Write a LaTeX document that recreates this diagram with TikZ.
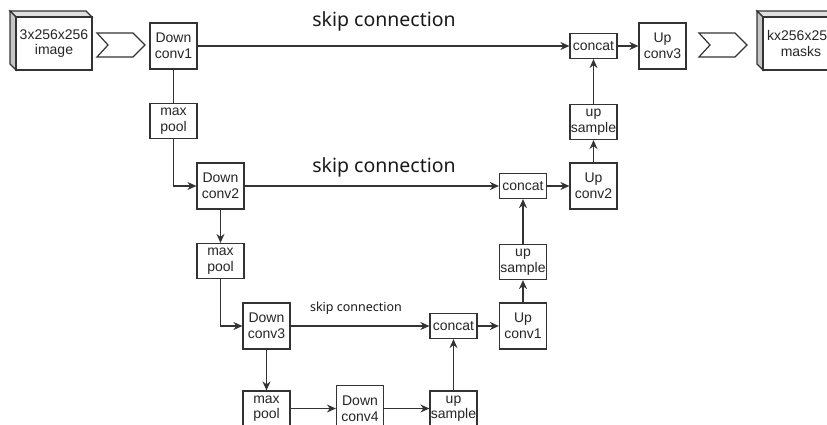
\documentclass[tikz,border=0pt]{standalone}
\usepackage{fontspec}
\setmainfont{Liberation Sans}
\newfontfamily\labelfont{Noto Sans}
\usetikzlibrary{arrows.meta}
\begin{document}
\begin{tikzpicture}[x=1pt,y=-1pt,
  blk/.style={draw=black!80, line width=1.2pt, fill=white, align=center,
    inner sep=0pt, text=black!85, font=\fontsize{14}{15.5}\selectfont,
    minimum width=47pt},
  conv/.style={blk, minimum height=46pt},
  smallbox/.style={blk, minimum height=35pt},
  catbox/.style={blk, minimum height=25pt},
  wire/.style={draw=black!80, line width=1.2pt},
  arr/.style={wire, -{Stealth[length=9pt,width=8pt]}},
  chev/.style={draw=black!80, line width=1.2pt, fill=white},
  voltext/.style={align=center, inner sep=0pt, text=black!85,
    font=\fontsize{14}{15.5}\selectfont},
  skiplabel/.style={text=black!90, inner sep=0pt}]
\useasboundingbox (0,0) rectangle (827,425);
\clip (0,0) rectangle (827,425);

% input and output volumes (cube outlines)
\newcommand{\volume}[2]{%
  \filldraw[fill=gray!25, draw=black!80, line width=1.2pt]
    (#1-6,#2-6) -- (#1+70,#2-6) -- (#1+76,#2) -- (#1,#2) -- cycle;
  \filldraw[fill=gray!45, draw=black!80, line width=1.2pt]
    (#1-6,#2-6) -- (#1,#2) -- (#1,#2+53) -- (#1-6,#2+47) -- cycle;
  \draw[fill=white, draw=black!80, line width=1.2pt] (#1,#2) rectangle (#1+76,#2+53);}
\volume{16}{17}
\volume{763}{17}
\node[voltext] (img) at (54,43.5) {3x256x256\\image};
\node[voltext] (masks) at (801,43.5) {kx256x256\\masks};

% chevrons
\draw[chev] (97,33) -- (133,33) -- (145,45) -- (133,57) -- (97,57) -- (108,45) -- cycle;
\draw[chev] (699,33) -- (735,33) -- (747,45) -- (735,57) -- (699,57) -- (710,45) -- cycle;

% contracting path
\node[conv] (dc1) at (173.5,46) {Down\\conv1};
\node[smallbox] (mp1) at (173.5,121) {max\\pool};
\node[conv] (dc2) at (220.5,186) {Down\\conv2};
\node[smallbox] (mp2) at (220.5,261) {max\\pool};
\node[conv] (dc3) at (266.5,326) {Down\\conv3};
\node[smallbox] (mp3) at (266.5,408.5) {max\\pool};
\node[conv] (dc4) at (360,408.5) {Down\\conv4};

% expanding path
\node[smallbox] (usb) at (453.5,408.5) {up\\sample};
\node[catbox] (catb) at (453.5,326) {concat};
\node[conv] (uc1) at (523,326) {Up\\conv1};
\node[smallbox] (usm) at (523,262) {up\\sample};
\node[catbox] (catm) at (523,186) {concat};
\node[conv] (uc2) at (593.5,186) {Up\\conv2};
\node[smallbox] (ust) at (593.5,122) {up\\sample};
\node[catbox] (catt) at (593.5,46) {concat};
\node[conv] (uc3) at (662.5,46) {Up\\conv3};

% skip connection labels
\node[skiplabel, font=\labelfont\fontsize{19.5}{22}\selectfont] (skip1) at (384,21) {skip connection};
\node[skiplabel, font=\labelfont\fontsize{19.5}{22}\selectfont] (skip2) at (384,167) {skip connection};
\node[skiplabel, font=\labelfont\fontsize{12.5}{14}\selectfont] (skip3) at (356,308) {skip connection};

% connectors
\draw[wire] (dc1) -- (mp1);
\draw[arr] (mp1) |- (dc2);
\draw[arr] (dc2) -- (mp2);
\draw[arr] (mp2) |- (dc3);
\draw[arr] (dc3) -- (mp3);
\draw[arr] (mp3) -- (dc4);
\draw[arr] (dc4) -- (usb);
\draw[arr] (usb) -- (catb);
\draw[arr] (catb) -- (uc1);
\draw[arr] (uc1) -- (usm);
\draw[arr] (usm) -- (catm);
\draw[arr] (catm) -- (uc2);
\draw[arr] (uc2) -- (ust);
\draw[arr] (ust) -- (catt);
\draw[arr] (catt) -- (uc3);
\draw[arr] (dc1) -- (catt);
\draw[arr] (dc2) -- (catm);
\draw[arr] (dc3) -- (catb);
\end{tikzpicture}
\end{document}
